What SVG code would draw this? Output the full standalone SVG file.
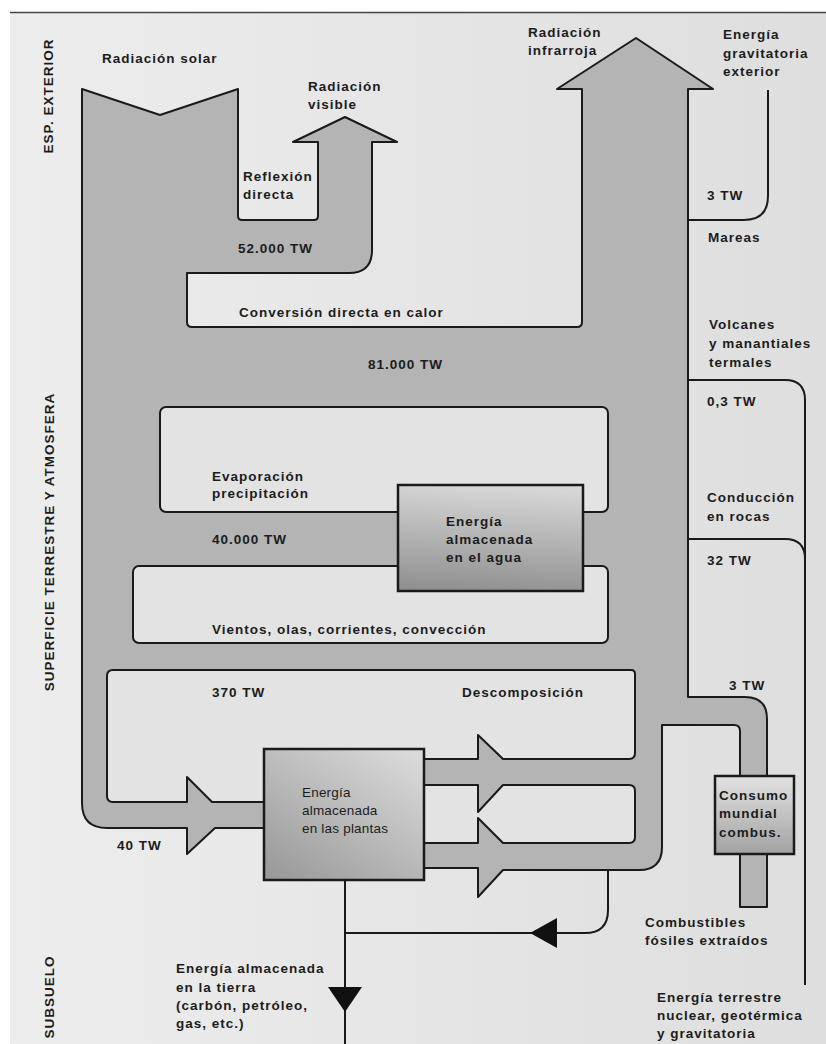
<svg xmlns="http://www.w3.org/2000/svg" width="826" height="1044" viewBox="0 0 826 1044">
<defs>
<linearGradient id="paper" x1="0" y1="0" x2="1" y2="0"><stop offset="0" stop-color="#ededed"/><stop offset="1" stop-color="#dedede"/></linearGradient>
<linearGradient id="gWater" x1="0.3" y1="0" x2="0.2" y2="1"><stop offset="0" stop-color="#d6d6d6"/><stop offset="1" stop-color="#8f8f8f"/></linearGradient>
<linearGradient id="gPlant" x1="0.9" y1="0" x2="0.1" y2="1"><stop offset="0" stop-color="#dadada"/><stop offset="1" stop-color="#9a9a9a"/></linearGradient>
<linearGradient id="gCons" x1="0" y1="0" x2="0" y2="1"><stop offset="0" stop-color="#e2e2e2"/><stop offset="1" stop-color="#a2a2a2"/></linearGradient>
<style>
.t{font-family:"Liberation Sans",Arial,sans-serif;font-size:13.5px;font-weight:bold;letter-spacing:1px;fill:#1c1c1c}
.p{font-family:"Liberation Sans",Arial,sans-serif;font-size:13.5px;letter-spacing:0.2px;fill:#1c1c1c}
.ln{fill:none;stroke:#1a1a1a;stroke-width:2;stroke-linejoin:round}
.flow{fill:#b4b4b4;stroke:#1a1a1a;stroke-width:2;stroke-linejoin:round}
.loop{fill:#e3e3e3;stroke:#1a1a1a;stroke-width:2;stroke-linejoin:round}
.box{stroke:#1a1a1a;stroke-width:2.5}
.tri{fill:#111}
</style>
</defs>
<rect x="0" y="0" width="826" height="1044" fill="#ffffff"/>
<rect x="10" y="12" width="816" height="1032" fill="url(#paper)"/>
<line x1="10" y1="12.5" x2="826" y2="12.5" stroke="#444" stroke-width="1.5"/>

<g id="connectors">
<path class="flow" d="M82,89 L160,115 L238,89 L238,216 Q238,220 242,220 L314,220 Q318,220 318,216 L318,142 L293,142 L345,117 L397,142 L372,142 L372,250 Q372,273 349,273 L187,273 L187,322 Q187,327 192,327 L577,327 Q582,327 582,322 L582,89 L557,89 L636,38 L713,89 L688,89 L688,697 L745,697 Q767,697 767,719 L767,907 L740,907 L740,731 Q740,725 734,725 L662,725 L662,847 Q662,870 639,870 L503,870 L478,897 L478,868 L424,868 L424,828 L215,828 L187,854 L187,828 L107,828 Q82,828 82,803 Z"/>
<rect class="loop" x="160" y="407" width="448" height="105" rx="6"/>
<rect class="loop" x="133" y="566" width="475" height="77" rx="6"/>
<path class="loop" d="M107,676 Q107,670 113,670 L631,670 Q635,670 635,674 L635,753 Q635,759 629,759 L503,759 L478,735 L478,759 L424,759 L424,749 L264,749 L264,802 L212,802 L187,777 L187,802 L113,802 Q107,802 107,796 Z"/>
<path class="loop" d="M424,785 L478,785 L478,812 L503,785 L629,785 Q635,785 635,791 L635,837 Q635,843 629,843 L503,843 L478,818 L478,843 L424,843 Z"/>
<path class="ln" d="M768,90 L768,196 Q768,220 744,220 L688,220"/>
<path class="ln" d="M688,380 L785,380 Q805,380 805,400 L805,985"/>
<path class="ln" d="M688,539 L785,539 Q805,539 805,559"/>
<path class="ln" d="M345,880 L345,1044"/>
<path class="ln" d="M345,933 L585,933 Q608,933 608,910 L608,870"/>
<polygon class="tri" points="530,933 557,918 557,948"/>
<polygon class="tri" points="328,987 362,987 345,1012"/>
</g>

<g id="node-agua">
<rect class="box" x="398" y="485" width="185" height="106" fill="url(#gWater)"/>
<text class="t" x="446" y="526">Energía</text>
<text class="t" x="446" y="544">almacenada</text>
<text class="t" x="446" y="562">en el agua</text>
</g>
<g id="node-plantas">
<rect class="box" x="264" y="749" width="160" height="131" fill="url(#gPlant)"/>
<text class="p" x="302" y="797">Energía</text>
<text class="p" x="302" y="815">almacenada</text>
<text class="p" x="302" y="833">en las plantas</text>
</g>
<g id="node-consumo">
<rect class="box" x="715" y="776" width="79" height="78" fill="url(#gCons)"/>
<text class="t" x="719" y="800">Consumo</text>
<text class="t" x="719" y="818">mundial</text>
<text class="t" x="719" y="837">combus.</text>
</g>

<g id="labels">
<text class="t" transform="translate(53,96) rotate(-90)" text-anchor="middle">ESP. EXTERIOR</text>
<text class="t" transform="translate(54,542) rotate(-90)" text-anchor="middle">SUPERFICIE TERRESTRE Y ATMOSFERA</text>
<text class="t" transform="translate(54,997) rotate(-90)" text-anchor="middle">SUBSUELO</text>
<text class="t" x="102" y="63">Radiación solar</text>
<text class="t" x="308" y="91">Radiación</text>
<text class="t" x="308" y="109">visible</text>
<text class="t" x="243" y="181">Reflexión</text>
<text class="t" x="243" y="199">directa</text>
<text class="t" x="238" y="253">52.000 TW</text>
<text class="t" x="239" y="317">Conversión directa en calor</text>
<text class="t" x="528" y="37">Radiación</text>
<text class="t" x="528" y="55">infrarroja</text>
<text class="t" x="723" y="39">Energía</text>
<text class="t" x="723" y="58">gravitatoria</text>
<text class="t" x="723" y="76">exterior</text>
<text class="t" x="707" y="200">3 TW</text>
<text class="t" x="708" y="242">Mareas</text>
<text class="t" x="709" y="329">Volcanes</text>
<text class="t" x="709" y="348">y manantiales</text>
<text class="t" x="709" y="367">termales</text>
<text class="t" x="707" y="406">0,3 TW</text>
<text class="t" x="707" y="502">Conducción</text>
<text class="t" x="707" y="521">en rocas</text>
<text class="t" x="707" y="565">32 TW</text>
<text class="t" x="368" y="369">81.000 TW</text>
<text class="t" x="212" y="481">Evaporación</text>
<text class="t" x="212" y="498">precipitación</text>
<text class="t" x="212" y="544">40.000 TW</text>
<text class="t" x="212" y="634">Vientos, olas, corrientes, convección</text>
<text class="t" x="212" y="697">370 TW</text>
<text class="t" x="462" y="697">Descomposición</text>
<text class="t" x="729" y="690">3 TW</text>
<text class="t" x="117" y="850">40 TW</text>
<text class="t" x="645" y="927">Combustibles</text>
<text class="t" x="645" y="945">fósiles extraídos</text>
<text class="t" x="176" y="973">Energía almacenada</text>
<text class="t" x="176" y="992">en la tierra</text>
<text class="t" x="176" y="1010">(carbón, petróleo,</text>
<text class="t" x="176" y="1028">gas, etc.)</text>
<text class="t" x="657" y="1002">Energía terrestre</text>
<text class="t" x="657" y="1020">nuclear, geotérmica</text>
<text class="t" x="657" y="1038">y gravitatoria</text>
</g>
</svg>
